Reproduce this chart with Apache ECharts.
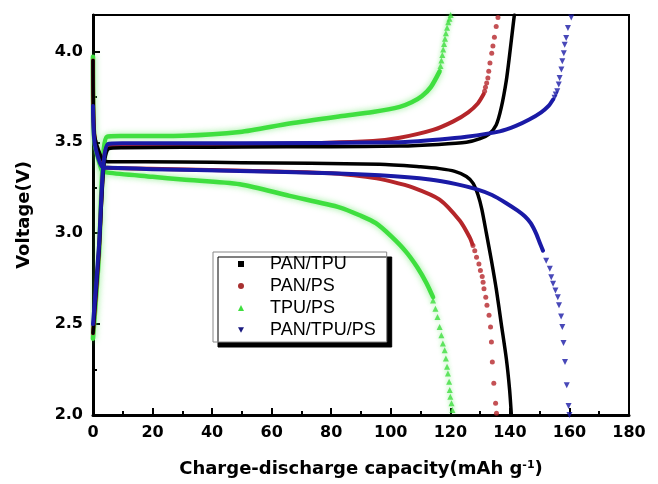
<!DOCTYPE html>
<html><head><meta charset="utf-8">
<script src="https://cdn.jsdelivr.net/npm/echarts@6/dist/echarts.min.js"></script>
<style>html,body{margin:0;padding:0;background:#fff}#c{width:658px;height:484px}</style>
</head><body><div id="c"></div><script>
const seriesNames = ['PAN/TPU', 'PAN/PS', 'TPU/PS', 'PAN/TPU/PS'];
const xTickValues = [0, 20, 40, 60, 80, 100, 120, 140, 160, 180];
const yTickValues = [2.0, 2.5, 3.0, 3.5, 4.0];

// PAN/TPU (black)
const panTpuCharge = [[0,2.45],[2,2.9],[3.7,3.38],[5.3,3.465],[10,3.47],[30,3.472],[50,3.474],[80,3.476],[103,3.479],[116,3.488],[125.4,3.50],[130,3.52],[133,3.545],[135.4,3.595],[137.1,3.69],[138.8,3.84],[139.9,3.98],[141.1,4.146],[141.5,4.2]];
const panTpuDischarge = [[0,3.95],[0.4,3.55],[3,3.41],[5,3.393],[30,3.392],[50,3.388],[96.3,3.379],[110,3.365],[116.4,3.355],[121.5,3.34],[125.4,3.312],[127.6,3.275],[129.3,3.21],[130.6,3.13],[132.1,3.0],[133.8,2.85],[135.5,2.685],[137.1,2.502],[138.8,2.31],[139.9,2.14],[140.5,2.0]];
const panTpuChargeDots = [];
const panTpuDischargeDots = [];

// PAN/PS (red)
const panPsCharge = [[0,2.45],[2,2.9],[3.5,3.37],[5.2,3.48],[20,3.485],[60,3.49],[94,3.507],[103,3.525],[114.2,3.568],[121,3.615],[126,3.665],[129.3,3.715],[131.2,3.765]];
const panPsDischarge = [[0,3.95],[0.4,3.55],[3,3.37],[5,3.36],[40,3.348],[80,3.33],[94,3.305],[100,3.285],[107.5,3.251],[116.4,3.185],[123.2,3.068],[126.5,2.977],[127.4,2.94]];
const panPsChargeDots = [[131.5,3.781],[131.8,3.803],[132.2,3.826],[132.6,3.854],[132.9,3.89],[133.3,3.936],[133.9,3.99],[134.3,4.03],[134.8,4.077],[135.4,4.137],[136.0,4.186]];
const panPsDischargeDots = [[127.6,2.932],[128.2,2.904],[128.8,2.867],[129.6,2.831],[130.1,2.795],[130.7,2.762],[131.0,2.73],[131.3,2.694],[131.9,2.648],[132.3,2.603],[133.0,2.548],[133.5,2.484],[133.8,2.402],[134.1,2.292],[134.6,2.174],[135.2,2.064],[135.5,2.009]];

// TPU/PS (green)
const tpuPsCharge = [[0,2.42],[2,2.88],[3.1,3.33],[4.7,3.53],[10,3.534],[30,3.536],[49.3,3.556],[66,3.603],[83,3.643],[94,3.667],[103,3.695],[107,3.72],[110.5,3.755],[113.5,3.805],[116.4,3.89]];
const tpuPsDischarge = [[0,3.97],[0.4,3.52],[3,3.345],[5,3.333],[20,3.31],[30,3.295],[49.3,3.269],[66,3.205],[83,3.141],[90,3.095],[95,3.055],[100,2.985],[105,2.9],[109,2.81],[112,2.725],[114.2,2.648]];
const tpuPsChargeDots = [[116.7,3.92],[117.0,3.95],[117.3,3.98],[117.6,4.01],[117.9,4.04],[118.2,4.07],[118.5,4.10],[118.9,4.13],[119.3,4.16],[119.7,4.18],[120.1,4.2]];
const tpuPsDischargeDots = [[114.2,2.630],[115.0,2.584],[115.7,2.539],[116.4,2.484],[117.0,2.438],[117.5,2.393],[118.1,2.356],[118.5,2.311],[118.9,2.265],[119.2,2.228],[119.6,2.183],[119.8,2.137],[120.0,2.10],[120.4,2.064],[120.7,2.027]];

// PAN/TPU/PS (blue)
const panTpuPsCharge = [[0,2.5],[2,2.93],[3.4,3.36],[5,3.49],[10,3.495],[49.3,3.495],[103,3.50],[116.4,3.515],[125.4,3.53],[136.6,3.56],[142,3.59],[146.5,3.625],[150.5,3.665],[153,3.70],[154.5,3.735]];
const panTpuPsDischarge = [[0,3.7],[0.6,3.49],[3.4,3.36],[5,3.36],[20,3.352],[49.3,3.342],[80,3.33],[96.3,3.318],[113.1,3.295],[122,3.27],[128.7,3.242],[134,3.21],[138.8,3.165],[142.5,3.125],[145,3.093],[147,3.055],[148.9,2.995],[150.2,2.94],[151.1,2.904]];
const panTpuPsChargeDots = [[155.0,3.745],[155.4,3.763],[155.9,3.781],[156.4,3.818],[156.7,3.854],[157.3,3.90],[157.6,3.945],[158.1,3.99],[158.4,4.037],[158.9,4.073],[159.5,4.128],[160.6,4.186]];
const panTpuPsDischargeDots = [[152.2,2.849],[153.4,2.804],[153.9,2.758],[154.5,2.722],[155.3,2.685],[156.1,2.648],[156.5,2.603],[157.2,2.542],[157.6,2.484],[158.0,2.396],[158.5,2.292],[159.1,2.164],[159.7,2.05],[160,2.0]];

const downTri = 'path://M0,0L10,0L5,9Z';
const styles = [
  {color:'#000000', width:3.5, z:4, symbol:'rect', dot:5, legendColor:'#000000'},
  {color:'#b5262a', width:4, z:3, symbol:'circle', dot:5, legendColor:'#a83030'},
  {color:'#3fdf3f', width:4.5, z:2, symbol:'triangle', dot:6, legendColor:'#3fdf3f'},
  {color:'#1a1aa6', width:4, z:5, symbol:downTri, dot:6, legendColor:'#1a1a80'}
];
const curves = [
  [panTpuCharge, panTpuDischarge, panTpuChargeDots, panTpuDischargeDots],
  [panPsCharge, panPsDischarge, panPsChargeDots, panPsDischargeDots],
  [tpuPsCharge, tpuPsDischarge, tpuPsChargeDots, tpuPsDischargeDots],
  [panTpuPsCharge, panTpuPsDischarge, panTpuPsChargeDots, panTpuPsDischargeDots]
];

const series = [];
curves.forEach((c, i) => {
  const s = styles[i];
  const glow = i === 2 ? {shadowBlur: 6, shadowColor: 'rgba(70,225,70,0.6)'} : {};
  [c[0], c[1]].forEach(d => series.push({
    name: seriesNames[i], type: 'line', data: d, showSymbol: false, smooth: 0.25,
    lineStyle: Object.assign({color: s.color, width: s.width, join: 'round', cap: 'round'}, glow), itemStyle: {color: s.color},
    z: s.z, silent: true, animation: false
  }));
  [c[2], c[3]].forEach(d => { if (d.length) series.push({
    name: seriesNames[i], type: 'scatter', data: d, symbol: s.symbol, symbolSize: s.dot,
    itemStyle: Object.assign({color: s.color}, i === 2 ? {shadowBlur: 4, shadowColor: 'rgba(70,225,70,0.6)'} : {}),
    z: s.z, silent: true, animation: false
  }); });
});

const chart = echarts.init(document.getElementById('c'), null, {renderer: 'canvas'});
const bold = {fontFamily: 'DejaVu Sans', fontWeight: 'bold', color: '#000'};
chart.setOption({
  animation: false,
  backgroundColor: '#fff',
  grid: {left: 93, right: 29, top: 15, bottom: 69, show: true, borderColor: '#000', borderWidth: 2, backgroundColor: 'transparent'},
  legend: {
    orient: 'vertical', left: 213, top: 252, align: 'left',
    data: seriesNames.map((n, i) => ({name: n, icon: styles[i].symbol, itemStyle: {color: styles[i].legendColor}})),
    itemWidth: 6, itemHeight: 6, itemGap: 4,
    padding: [3, 11, 3, 25],
    backgroundColor: '#fff', borderColor: '#888', borderWidth: 1,
    shadowColor: '#000', shadowBlur: 0, shadowOffsetX: 5, shadowOffsetY: 5,
    textStyle: {fontFamily: 'Liberation Sans', fontSize: 18, color: '#000', lineHeight: 18, padding: [0, 0, 0, 21]},
    selectedMode: false
  },
  xAxis: {
    type: 'value', min: xTickValues[0], max: xTickValues[xTickValues.length - 1], interval: 20,
    axisLine: {show: true, onZero: false, lineStyle: {color: '#000', width: 3}},
    axisTick: {inside: true, length: 7, lineStyle: {color: '#000', width: 2}},
    minorTick: {show: true, splitNumber: 2, length: 4, lineStyle: {color: '#000', width: 2}},
    splitLine: {show: false},
    axisLabel: Object.assign({fontSize: 16, margin: 10, formatter: v => xTickValues.includes(v) ? String(v) : ''}, bold),
    name: '{a|Charge-discharge capacity(mAh g}{s|-1}{a|)}', nameLocation: 'middle', nameGap: 45,
    nameTextStyle: {rich: {a: Object.assign({fontSize: 18}, bold), s: Object.assign({fontSize: 11, verticalAlign: 'top', padding: [0, 0, 8, 0]}, bold)}}
  },
  yAxis: [{
    type: 'value', min: 2.0, max: 4.2, interval: 0.5,
    axisLine: {show: true, onZero: false, lineStyle: {color: '#000', width: 3}},
    axisTick: {inside: true, length: 7, lineStyle: {color: '#000', width: 2}},
    splitLine: {show: false},
    axisLabel: Object.assign({fontSize: 16, margin: 10, formatter: v => {
      const t = yTickValues.find(y => Math.abs(y - v) < 1e-6); return t === undefined ? '' : t.toFixed(1);
    }}, bold),
    name: 'Voltage(V)', nameLocation: 'middle', nameGap: 60,
    nameTextStyle: Object.assign({fontSize: 18}, bold)
  }, {
    type: 'value', min: 2.0, max: 4.2, interval: 0.25, position: 'left',
    axisLine: {show: false}, axisLabel: {show: false}, splitLine: {show: false},
    axisTick: {inside: true, length: 4, lineStyle: {color: '#000', width: 2}}
  }],
  series: series
});
</script></body></html>
